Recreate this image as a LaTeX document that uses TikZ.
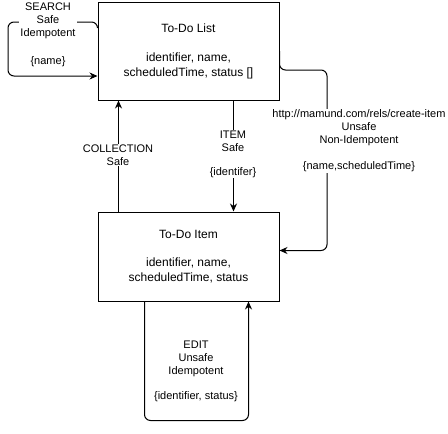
\documentclass[tikz,border=0pt]{standalone}
\usepackage{fontspec}
\setmainfont{Liberation Sans}
\usetikzlibrary{arrows.meta,positioning}
\tikzset{
	box/.style={draw,rectangle,align=center,line width=1pt,minimum width=181pt,inner sep=0pt,font=\fontsize{12}{14.5}\selectfont},
	lbl/.style={align=center,fill=white,inner sep=1pt,font=\fontsize{11}{13}\selectfont},
	link/.style={line width=1pt,rounded corners=6pt},
	tip/.style={-{Stealth[length=8pt,width=7pt]}}
}

\begin{document}
\begin{tikzpicture}[x=1pt,y=-1pt]
	\useasboundingbox (0,0) rectangle (448,434);
	\node[box,minimum height=98pt] (lst) at (188.5,51) {To-Do List\\[15pt]identifier, name,\\scheduledTime, status []};
	\node[box,minimum height=89pt] (itm) at (188.5,256.5) {To-Do Item\\[14pt]identifier, name,\\scheduledTime, status};
	% links between the two resources
	\draw[link,tip] ([yshift=23pt]lst.west) |- (8,22) |- ([yshift=-25pt]lst.west);
	\draw[link,tip] (lst.east) |- (327,70) |- ([yshift=6pt]itm.east);
	\draw[link,tip] ([xshift=45pt]lst.south) -- ([xshift=45pt]itm.north);
	\draw[link,tip] ([xshift=-70pt]itm.north) -- ([xshift=-70pt]lst.south);
	\draw[link,tip] ([xshift=-44pt]itm.south) -- ++(0,119) -| ([xshift=60pt]itm.south);
	% labels
	\node[lbl] (srch) at (48,35) {SEARCH\\Safe\\Idempotent\\[15pt]\{name\}};
	\node[lbl] (crt) at (359,141) {http://mamund.com/rels/create-item\\Unsafe\\Non-Idempotent\\[13pt]\{name,scheduledTime\}};
	\node[lbl] (itml) at (233,154) {ITEM\\Safe\\[11pt]\{identifer\}};
	\node[lbl] (coll) at (118,155) {COLLECTION\\Safe};
	\node[lbl] (edt) at (196,371.5) {EDIT\\Unsafe\\Idempotent\\[12pt]\{identifier, status\}};
\end{tikzpicture}
\end{document}
